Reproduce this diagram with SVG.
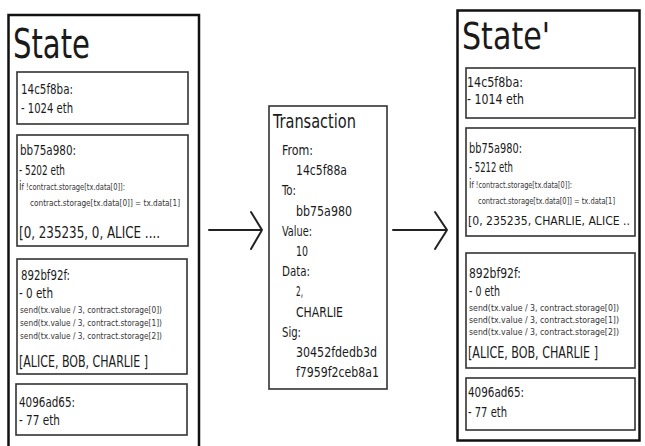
<svg xmlns="http://www.w3.org/2000/svg" width="645" height="446" viewBox="0 0 645 446">
<style>
text{font-family:"DejaVu Sans Condensed","DejaVu Sans",sans-serif;fill:#1a1a1a;font-stretch:condensed}
.title{font-size:41px}
.t{font-size:13.5px}
.c{font-size:9.5px;fill:#333}
.c9{font-size:9px;fill:#333}
.b{font-size:15.5px}
.b13{font-size:12.8px}
.tx{font-size:13.5px}
.outer{fill:none;stroke:#111;stroke-width:2.5}
.box{fill:#fff;stroke:#333;stroke-width:1.6}
.arrow{fill:none;stroke:#222;stroke-width:2;stroke-linecap:round;stroke-linejoin:miter}
</style>
<rect width="645" height="446" fill="#fff"/>

<g id="state">
<rect class="outer" x="8.5" y="15" width="190.5" height="450"/>
<text class="title" x="13" y="58" textLength="77" lengthAdjust="spacingAndGlyphs">State</text>
<g id="s-14c5f8ba">
<rect class="box" x="17" y="72" width="171" height="52"/>
<text class="t" x="21" y="94" textLength="52" lengthAdjust="spacingAndGlyphs">14c5f8ba:</text>
<text class="t" x="21" y="113" textLength="52" lengthAdjust="spacingAndGlyphs">- 1024 eth</text>
</g>
<g id="s-bb75a980">
<rect class="box" x="17" y="135" width="171" height="111"/>
<text class="t" x="20" y="155" textLength="56" lengthAdjust="spacingAndGlyphs">bb75a980:</text>
<text class="t" x="19" y="175" textLength="46" lengthAdjust="spacingAndGlyphs">- 5202 eth</text>
<text class="c" x="19" y="190" textLength="106" lengthAdjust="spacingAndGlyphs"><tspan font-size="13">i</tspan>f !contract.storage[tx.data[0]]:</text>
<text class="c" x="30" y="206" textLength="150" lengthAdjust="spacingAndGlyphs">contract.storage[tx.data[0]] = tx.data[1]</text>
<text class="b" x="19" y="238" textLength="141" lengthAdjust="spacingAndGlyphs">[0, 235235, 0, ALICE ....</text>
</g>
<g id="s-892bf92f">
<rect class="box" x="17" y="259" width="170" height="115"/>
<text class="t" x="21" y="280" textLength="49" lengthAdjust="spacingAndGlyphs">892bf92f:</text>
<text class="t" x="19" y="298" textLength="34" lengthAdjust="spacingAndGlyphs">- 0 eth</text>
<text class="c" x="20" y="313" textLength="142" lengthAdjust="spacingAndGlyphs">send(tx.value / 3, contract.storage[0])</text>
<text class="c" x="20" y="326" textLength="142" lengthAdjust="spacingAndGlyphs">send(tx.value / 3, contract.storage[1])</text>
<text class="c" x="20" y="339" textLength="142" lengthAdjust="spacingAndGlyphs">send(tx.value / 3, contract.storage[2])</text>
<text class="b" x="19" y="367" textLength="129" lengthAdjust="spacingAndGlyphs">[ALICE, BOB, CHARLIE ]</text>
</g>
<g id="s-4096ad65">
<rect class="box" x="16" y="384" width="171" height="51"/>
<text class="t" x="19" y="407" textLength="56" lengthAdjust="spacingAndGlyphs">4096ad65:</text>
<text class="t" x="19" y="425" textLength="41" lengthAdjust="spacingAndGlyphs">- 77 eth</text>
</g>
</g>

<g id="transaction">
<rect class="box" x="269" y="106" width="118" height="283"/>
<text x="273" y="128" font-size="20" textLength="83" lengthAdjust="spacingAndGlyphs">Transaction</text>
<text class="tx" x="282" y="155" textLength="31" lengthAdjust="spacingAndGlyphs">From:</text>
<text class="tx" x="296" y="175" textLength="51" lengthAdjust="spacingAndGlyphs">14c5f88a</text>
<text class="tx" x="282" y="195" textLength="14" lengthAdjust="spacingAndGlyphs">To:</text>
<text class="tx" x="296" y="216" textLength="56" lengthAdjust="spacingAndGlyphs">bb75a980</text>
<text class="tx" x="282" y="236" textLength="30" lengthAdjust="spacingAndGlyphs">Value:</text>
<text class="tx" x="296" y="256" textLength="12" lengthAdjust="spacingAndGlyphs">10</text>
<text class="tx" x="282" y="276" textLength="28" lengthAdjust="spacingAndGlyphs">Data:</text>
<text class="tx" x="296" y="296" textLength="7" lengthAdjust="spacingAndGlyphs">2,</text>
<text class="tx" x="296" y="317" textLength="47" lengthAdjust="spacingAndGlyphs">CHARLIE</text>
<text class="tx" x="282" y="337" textLength="19" lengthAdjust="spacingAndGlyphs">Sig:</text>
<text class="tx" x="296" y="357" textLength="81" lengthAdjust="spacingAndGlyphs">30452fdedb3d</text>
<text class="tx" x="296" y="377" textLength="83" lengthAdjust="spacingAndGlyphs">f7959f2ceb8a1</text>
</g>

<g id="state-prime">
<rect class="outer" x="457.5" y="10.5" width="182" height="430" stroke-width="3"/>
<text x="462" y="49" font-size="37" textLength="88" lengthAdjust="spacingAndGlyphs">State'</text>
<g id="p-14c5f8ba">
<rect class="box" x="466" y="68" width="169" height="50"/>
<text class="t" x="467" y="87" textLength="56" lengthAdjust="spacingAndGlyphs">14c5f8ba:</text>
<text class="t" x="467" y="104" textLength="57" lengthAdjust="spacingAndGlyphs">- 1014 eth</text>
</g>
<g id="p-bb75a980">
<rect class="box" x="466" y="128" width="169" height="108"/>
<text class="t" x="469" y="153" textLength="53" lengthAdjust="spacingAndGlyphs">bb75a980:</text>
<text class="t" x="469" y="172" textLength="44" lengthAdjust="spacingAndGlyphs">- 5212 eth</text>
<text class="c" x="469" y="188" textLength="103" lengthAdjust="spacingAndGlyphs"><tspan font-size="13">i</tspan>f !contract.storage[tx.data[0]]:</text>
<text class="c9" x="478" y="204" textLength="137" lengthAdjust="spacingAndGlyphs">contract.storage[tx.data[0]] = tx.data[1]</text>
<text class="b13" x="468" y="225" textLength="162" lengthAdjust="spacingAndGlyphs">[0, 235235, CHARLIE, ALICE ..</text>
</g>
<g id="p-892bf92f">
<rect class="box" x="466" y="253" width="169" height="115"/>
<text class="t" x="469" y="278" textLength="52" lengthAdjust="spacingAndGlyphs">892bf92f:</text>
<text class="t" x="469" y="296" textLength="31" lengthAdjust="spacingAndGlyphs">- 0 eth</text>
<text class="c" x="469" y="311" textLength="150" lengthAdjust="spacingAndGlyphs">send(tx.value / 3, contract.storage[0])</text>
<text class="c" x="469" y="323" textLength="150" lengthAdjust="spacingAndGlyphs">send(tx.value / 3, contract.storage[1])</text>
<text class="c" x="469" y="335" textLength="150" lengthAdjust="spacingAndGlyphs">send(tx.value / 3, contract.storage[2])</text>
<text class="b" x="468" y="358" textLength="130" lengthAdjust="spacingAndGlyphs">[ALICE, BOB, CHARLIE ]</text>
</g>
<g id="p-4096ad65">
<rect class="box" x="466" y="378" width="169" height="52"/>
<text class="t" x="468" y="397" textLength="56" lengthAdjust="spacingAndGlyphs">4096ad65:</text>
<text class="t" x="468" y="417" textLength="39" lengthAdjust="spacingAndGlyphs">- 77 eth</text>
</g>
</g>

<g id="connectors">
<path class="arrow" d="M209 230H262M251 212L262 230L251 249"/>
<path class="arrow" d="M393 230H447M435 212L447 230L435 249"/>
</g>
</svg>
